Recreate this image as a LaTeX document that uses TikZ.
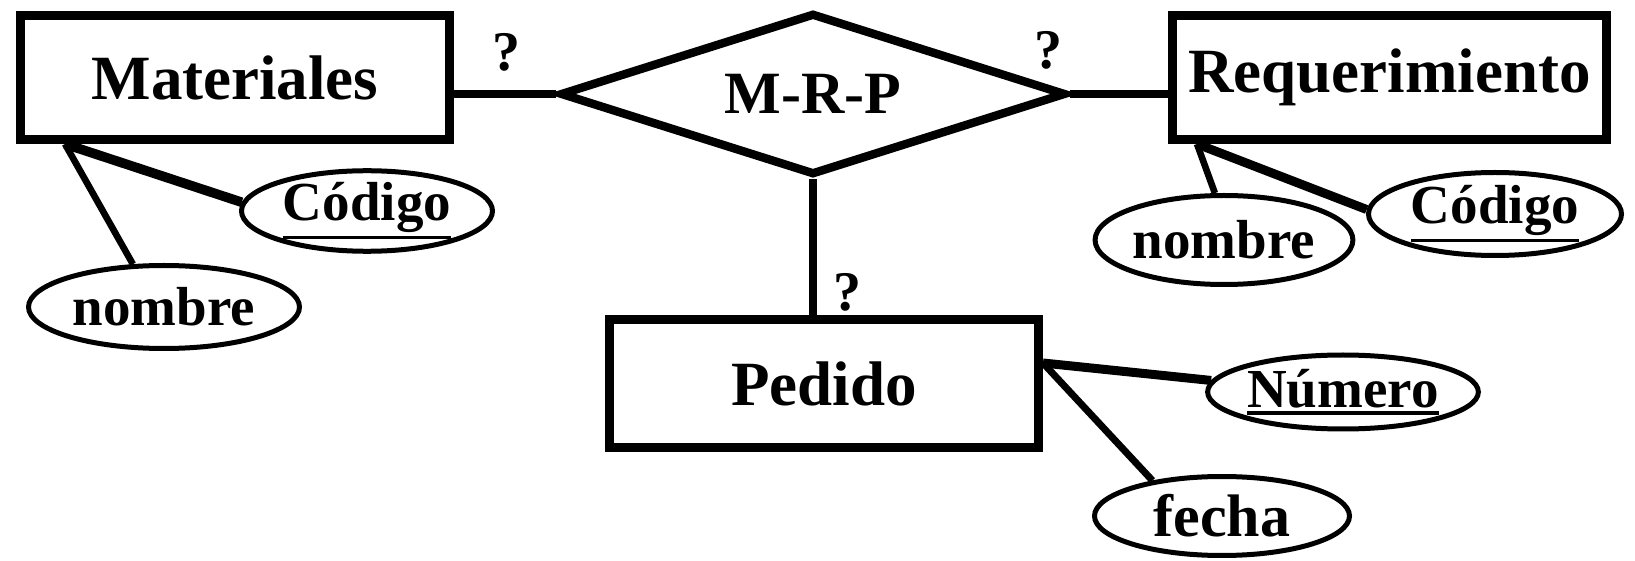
\documentclass[tikz,border=0pt]{standalone}
\usepackage{fontspec}
\setmainfont{Liberation Serif}
\usetikzlibrary{shapes.geometric}
\newcommand\thickul[1]{\leavevmode\vtop{\hbox{#1}\kern1.5pt\hrule height 1.8pt}}
\begin{document}
\begin{tikzpicture}[x=0.5pt,y=-0.5pt,
  entity/.style={rectangle,draw,line width=4.5pt,inner sep=0pt,minimum height=62pt,font=\fontsize{31.5}{36}\selectfont\bfseries},
  attr/.style={ellipse,draw,line width=2.5pt,inner sep=0pt,font=\fontsize{27.5}{32}\selectfont\bfseries},
  relation/.style={diamond,draw,line width=4.2pt,inner sep=0pt,aspect=3.2,minimum width=253pt,minimum height=81pt,font=\fontsize{30}{34}\selectfont\bfseries},
  conn/.style={line width=4.2pt},
  thinconn/.style={line width=3.3pt},
  card/.style={inner sep=0pt,font=\fontsize{28}{32}\selectfont\bfseries}]
\useasboundingbox (0,0) rectangle (1635,561);
% entities
\node[entity,minimum width=214.5pt] (mat) at (235,77.5) {Materiales};
\node[entity,minimum width=217pt] (req) at (1389.5,77.5) {Requerimiento};
\node[entity,minimum width=214.5pt,minimum height=64pt] (ped) at (824,384) {Pedido};
% relationship
\node[relation] (rel) at (813,94) {M-R-P};
% attributes
\node[attr,minimum width=125.5pt,minimum height=37pt] (codA) at (367,211) {\thickul{Código}};
\node[attr,minimum width=135.5pt,minimum height=41.5pt] (nomA) at (164,307) {nombre};
\node[attr,minimum width=128.5pt,minimum height=44.5pt] (nomB) at (1224,240) {nombre};
\node[attr,minimum width=126.5pt,minimum height=41.5pt] (codB) at (1495,214) {\thickul{Código}};
\node[attr,minimum width=127.5pt,minimum height=37pt] (num) at (1343,392) {\thickul{Número}};
\node[attr,minimum width=127.5pt,minimum height=39.5pt,font=\fontsize{30}{34}\selectfont\bfseries] (fec) at (1222,516) {fecha};
% cardinalities
\node[card] (c1) at (506,52) {?};
\node[card] (c2) at (1048,50) {?};
\node[card] (c3) at (847,292) {?};
% relationship connectors
\draw[conn] (rel.west -| mat.east) -- (rel.west);
\draw[conn] (rel.east) -- (rel.east -| req.west);
\draw[conn] (rel.south) -- (rel.south |- ped.north);
% attribute connectors
\coordinate (mA) at ([xshift=24.5pt]mat.south west);
\draw[conn,line width=4.8pt] (mA) -- (codA.176);
\draw[thinconn] (mA) -- (nomA.126);
\coordinate (rA) at ([xshift=14.5pt]req.south west);
\draw[thinconn] (rA) -- (nomB.101);
\draw[conn,line width=4.5pt] (rA) -- (codB.178);
\coordinate (pA) at ([yshift=10.5pt]ped.east);
\draw[conn,line width=4.5pt] (pA) -- (num.175);
\draw[thinconn,line width=3.5pt] (pA) -- (fec.153);
\end{tikzpicture}
\end{document}
